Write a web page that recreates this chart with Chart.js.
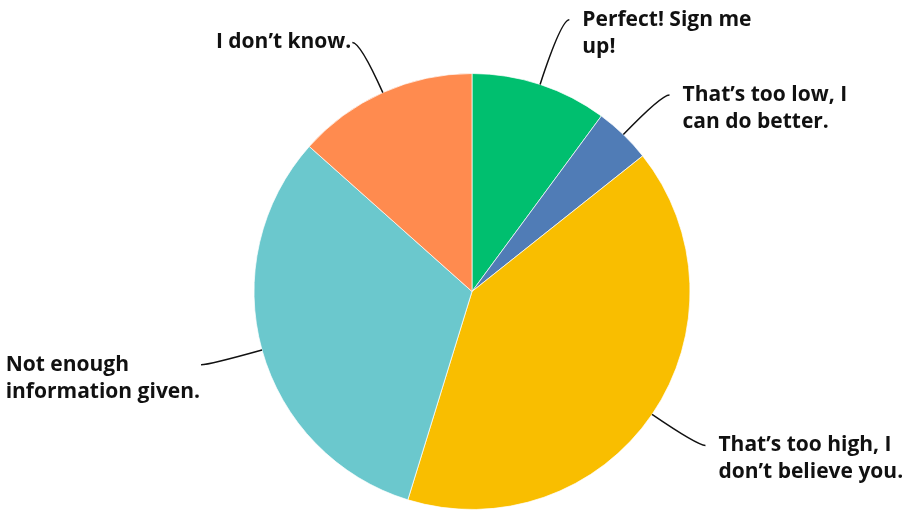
<!DOCTYPE html>
<html lang="en">
<head>
<meta charset="UTF-8">
<title>Pie chart</title>
<script src="https://cdn.jsdelivr.net/npm/chart.js@4.4.0/dist/chart.umd.min.js"></script>
<style>
  html, body { margin: 0; padding: 0; background: #fff; }
  #wrap { width: 904px; height: 510px; }
</style>
</head>
<body>
<div id="wrap"><canvas id="pie" width="904" height="510"></canvas></div>
<script>
// answers, clockwise from 12 o'clock
const categories = [
  ['Perfect! Sign me', 'up!'],
  ['That\u2019s too low, I', 'can do better.'],
  ['That\u2019s too high, I', 'don\u2019t believe you.'],
  ['Not enough', 'information given.'],
  ['I don\u2019t know.']
];
const shares = [10.1, 4.2, 40.4, 31.8, 13.4];
const sliceColors = ['#00bf6f', '#507cb6', '#f9be00', '#6bc8cd', '#ff8b4f'];

// extra lift of the leader elbow for crowded labels (px)
const elbowLift = [13, 0, 0, 0, 0];

const labelFont = '700 21px "Open Sans", sans-serif';
const lineHeight = 27;

const leaderLabels = {
  id: 'leaderLabels',
  afterDatasetsDraw(chart) {
    const ctx = chart.ctx;
    const arcs = chart.getDatasetMeta(0).data;
    ctx.save();
    ctx.font = labelFont;
    ctx.strokeStyle = '#111';
    ctx.fillStyle = '#111';
    ctx.lineWidth = 1.5;
    ctx.textBaseline = 'middle';
    arcs.forEach((arc, i) => {
      const p = arc.getProps(['x', 'y', 'startAngle', 'endAngle', 'outerRadius'], true);
      const mid = (p.startAngle + p.endAngle) / 2;
      const cos = Math.cos(mid), sin = Math.sin(mid);
      const ax = p.x + cos * p.outerRadius;
      const ay = p.y + sin * p.outerRadius;
      const t = 55 + elbowLift[i];
      const cx = ax + cos * t;
      const cy = ay + sin * t;
      const right = cos >= 0;
      const ex = cx + (right ? 8 : -8);
      ctx.beginPath();
      ctx.moveTo(ax, ay);
      ctx.quadraticCurveTo(cx, cy, ex, cy);
      ctx.stroke();

      const lines = categories[i];
      const w = Math.max(...lines.map(l => ctx.measureText(l).width));
      const tx = right ? ex + 13 : ex - 1 - w;
      ctx.textAlign = 'left';
      lines.forEach((l, k) => ctx.fillText(l, tx, cy + k * lineHeight));
    });
    ctx.restore();
  }
};

new Chart(document.getElementById('pie'), {
  type: 'pie',
  data: {
    labels: categories.map(c => c.join(' ')),
    datasets: [{
      data: shares,
      backgroundColor: sliceColors,
      borderColor: 'rgba(255,255,255,0.7)',
      borderWidth: 1
    }]
  },
  options: {
    responsive: false,
    animation: false,
    layout: { padding: { top: 73, bottom: 0, left: 253, right: 213 } },
    plugins: {
      legend: { display: false },
      tooltip: { enabled: false }
    }
  },
  plugins: [leaderLabels]
});
</script>
</body>
</html>
